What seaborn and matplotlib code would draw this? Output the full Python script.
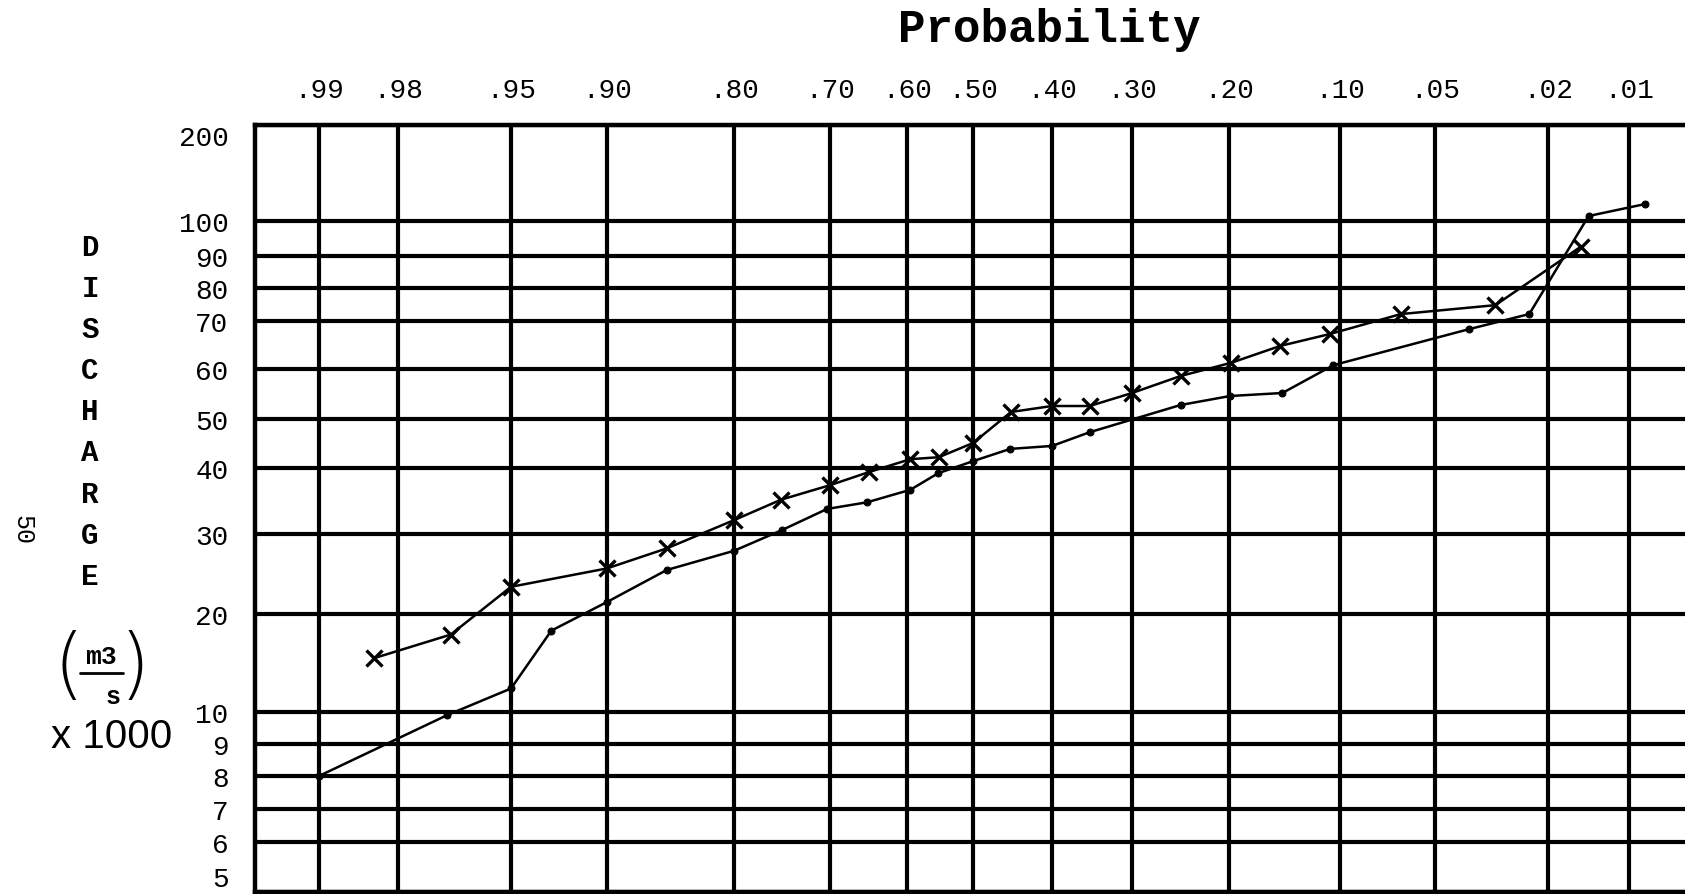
import numpy as np
import pandas as pd
import matplotlib
matplotlib.use("Agg")
import matplotlib.pyplot as plt
from matplotlib.lines import Line2D
import seaborn as sns

# ---------------- data (discharge in 1000 m3/s) ----------------
prob_x = [0.983, 0.966, 0.95, 0.90, 0.853, 0.80, 0.751, 0.70, 0.649, 0.595, 0.552, 0.50,
          0.452, 0.40, 0.353, 0.30, 0.25, 0.198, 0.154, 0.109, 0.068, 0.034, 0.016]
q_x = [15.5, 17.9, 23.4, 25.7, 28.2, 32.1, 35.2, 37.4, 39.4, 41.8, 42.2, 45.1,
       51.4, 52.6, 52.6, 55.2, 58.6, 61.3, 64.8, 67.3, 72.1, 74.8, 92.6]

prob_dot = [0.99, 0.967, 0.95, 0.929, 0.90, 0.853, 0.80, 0.75, 0.703, 0.652, 0.595, 0.553,
            0.50, 0.453, 0.40, 0.353, 0.25, 0.199, 0.152, 0.106, 0.041, 0.025, 0.015, 0.008]
q_dot = [8.0, 9.9, 12.4, 18.3, 21.5, 25.5, 27.9, 30.6, 33.8, 34.8, 36.7, 39.2,
         41.4, 43.9, 44.5, 47.3, 52.8, 54.6, 55.2, 60.8, 68.3, 72.1, 105.2, 117.7]

prob_ticks = [0.99, 0.98, 0.95, 0.90, 0.80, 0.70, 0.60, 0.50, 0.40, 0.30, 0.20, 0.10, 0.05, 0.02, 0.01]
prob_labels = [".99", ".98", ".95", ".90", ".80", ".70", ".60", ".50", ".40", ".30",
               ".20", ".10", ".05", ".02", ".01"]
q_ticks = [5, 6, 7, 8, 9, 10, 20, 30, 40, 50, 60, 70, 80, 90, 100, 200]
q_labels = [str(v) for v in q_ticks]

# ---------------- hand-drawn paper scale (layout) ----------------
# pixel positions of the printed gridlines on the paper
x_grid_pos = [319, 398, 511, 607, 734, 830, 907, 973, 1052, 1132, 1229, 1340, 1435, 1548, 1629]
y_grid_pos = [893, 843, 810, 777, 745, 713, 615, 535, 469, 420, 370, 322, 289, 257, 222, 126]


def piecewise(xp, fp):
    xp = np.asarray(xp, float)
    fp = np.asarray(fp, float)
    order = np.argsort(xp)
    xp, fp = xp[order], fp[order]
    s0 = (fp[1] - fp[0]) / (xp[1] - xp[0])
    s1 = (fp[-1] - fp[-2]) / (xp[-1] - xp[-2])

    def f(v):
        v = np.asarray(v, float)
        out = np.interp(v, xp, fp)
        out = np.where(v < xp[0], fp[0] + (v - xp[0]) * s0, out)
        out = np.where(v > xp[-1], fp[-1] + (v - xp[-1]) * s1, out)
        return out
    return f


# increasing transforms (x axis is then shown inverted: .99 on the left)
x_neg = [-p for p in x_grid_pos]
x_fwd = piecewise(prob_ticks, x_neg)
x_inv = piecewise(x_neg, prob_ticks)
y_h = [893 - p for p in y_grid_pos]
y_fwd = piecewise(q_ticks, y_h)
y_inv = piecewise(y_h, q_ticks)

# ---------------- figure ----------------
sns.set_theme(style="white")
plt.rcParams['font.family'] = ['Liberation Mono', 'DejaVu Sans']
plt.rcParams['text.color'] = 'black'

W, H = 1685, 895
fig = plt.figure(figsize=(W / 100, H / 100), dpi=100)
fig.patch.set_facecolor("white")
ax = fig.add_axes([255 / W, 2 / H, (W - 255) / W, (893 - 126) / H])
ax.set_facecolor("white")

ax.set_xscale("function", functions=(x_fwd, x_inv))
ax.set_yscale("function", functions=(y_fwd, y_inv))

df_x = pd.DataFrame({"p": prob_x, "q": q_x})
df_d = pd.DataFrame({"p": prob_dot, "q": q_dot})

sns.lineplot(data=df_x, x="p", y="q", ax=ax, sort=False, estimator=None,
             color="black", linewidth=1.8, marker="x", markersize=11,
             markeredgewidth=2.4, markeredgecolor="black", zorder=5)
sns.lineplot(data=df_d, x="p", y="q", ax=ax, sort=False, estimator=None,
             color="black", linewidth=1.8, marker="o", markersize=5,
             markeredgecolor="black", markerfacecolor="black", zorder=5)

ax.set_xlim(0.9981, 0.0031)
ax.set_ylim(5, 200)

ax.set_xticks(prob_ticks)
ax.set_xticklabels(prob_labels)
ax.set_yticks(q_ticks)
ax.set_yticklabels(q_labels)
ax.minorticks_off()
ax.xaxis.tick_top()
ax.tick_params(axis="x", length=0, pad=16, labelsize=20, colors="black")
ax.tick_params(axis="y", length=0, pad=19, labelsize=20, colors="black")
ax.set_xlabel("")
ax.set_ylabel("")
ylabels = ax.get_yticklabels()
ylabels[0].set_verticalalignment("bottom")
ylabels[-1].set_verticalalignment("top")

ax.grid(True, which="major", color="black", linewidth=3.0)
ax.set_axisbelow(True)
for side in ["top", "left", "bottom"]:
    ax.spines[side].set_visible(True)
    ax.spines[side].set_color("black")
    ax.spines[side].set_linewidth(3.2)
ax.spines["right"].set_visible(False)


def ftext(x, y, s, **kw):
    kw.setdefault("color", "black")
    fig.text(x / W, 1 - y / H, s, **kw)


ftext(1049, 30, "Probability", fontsize=33, fontweight="bold", ha="center", va="center")

ylab = "DISCHARGE"
y0, dy = 248, 41.1
for i, ch in enumerate(ylab):
    ftext(90, y0 + i * dy, ch, fontsize=21, fontweight="bold", ha="center", va="center")

ftext(101, 657, "m3", fontsize=19, fontweight="bold", ha="center", va="center")
fig.add_artist(Line2D([80 / W, 123 / W], [1 - 674 / H, 1 - 674 / H],
                      transform=fig.transFigure, color="black", linewidth=2.0))
ftext(113, 697, "s", fontsize=18, fontweight="bold", ha="center", va="center")
ftext(69, 668, "(", fontsize=56, ha="center", va="center", family=["DejaVu Sans"],
      fontweight="light")
ftext(135, 668, ")", fontsize=56, ha="center", va="center", family=["DejaVu Sans"],
      fontweight="light")
ftext(112, 737, "x 1000", fontsize=29, ha="center", va="center",
      family=["Liberation Sans Narrow", "Liberation Sans", "DejaVu Sans"])
ftext(22, 530, "50", fontsize=18, ha="center", va="center", rotation=270)

fig.savefig("out.png", dpi=100, facecolor="white")
